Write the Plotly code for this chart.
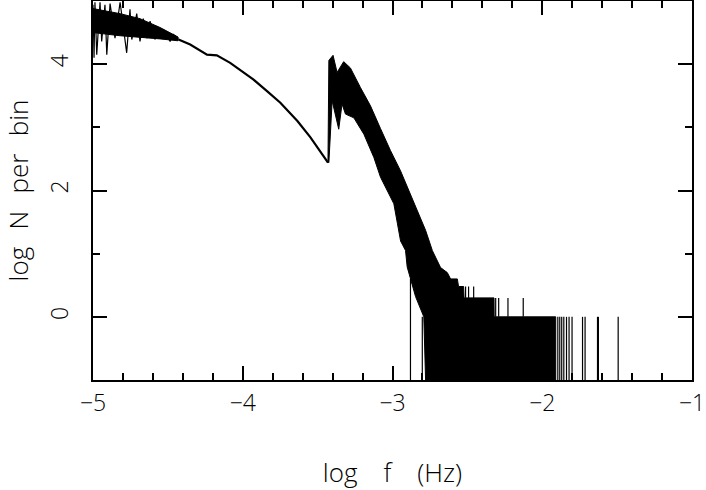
import plotly.graph_objects as go

# ---- data (log f in Hz, log N per bin) ----
# noisy low-frequency part: dense core (x, upper, lower)
core_x = [-5.000, -4.819, -4.686, -4.552, -4.432]
core_hi = [4.88, 4.80, 4.72, 4.58, 4.43]
core_lo = [4.50, 4.45, 4.42, 4.40, 4.37]
# noisy part: outer spike extremes, in order of frequency
noisy_x = [-5.000, -4.993, -4.987, -4.975, -4.953, -4.942, -4.920, -4.908, -4.886, -4.853,
           -4.819, -4.775, -4.753, -4.741, -4.708, -4.686, -4.664, -4.641, -4.619, -4.585,
           -4.574, -4.540, -4.530, -4.485, -4.463, -4.429]
noisy_y = [4.94, 4.10, 4.98, 4.15, 4.98, 4.36, 4.94, 4.15, 4.96, 4.41,
           4.98, 4.18, 4.87, 4.39, 4.80, 4.36, 4.72, 4.41, 4.68, 4.39,
           4.60, 4.41, 4.55, 4.36, 4.47, 4.39]

# smooth declining part
smooth_x = [-4.429, -4.351, -4.239, -4.173, -4.084, -3.997, -3.930, -3.836, -3.749, -3.635, -3.548, -3.448, -3.431]
smooth_y = [4.39, 4.31, 4.15, 4.14, 4.02, 3.87, 3.76, 3.57, 3.39, 3.10, 2.84, 2.50, 2.44]

# dense band after the jump: upper envelope
band_hi_x = [-3.431, -3.425, -3.397, -3.370, -3.326, -3.281, -3.214, -3.147, -3.080, -3.013,
             -2.946, -2.880, -2.813, -2.779, -2.734, -2.701, -2.679, -2.634, -2.612, -2.567,
             -2.559, -2.525, -2.522, -2.322, -2.321, -1.910]
band_hi_y = [2.44, 4.06, 4.14, 3.87, 4.04, 3.94, 3.63, 3.34, 2.98, 2.63,
             2.31, 1.95, 1.57, 1.37, 1.05, 0.90, 0.78, 0.70, 0.60, 0.60,
             0.48, 0.48, 0.30, 0.30, 0.00, 0.00]
# dense band: lower envelope (empty bins sit on the -1 floor)
band_lo_x = [-3.425, -3.403, -3.359, -3.337, -3.314, -3.258, -3.191, -3.124, -3.080, -2.991,
             -2.946, -2.913, -2.902, -2.846, -2.791, -2.779, -1.910]
band_lo_y = [2.44, 3.42, 2.97, 3.37, 3.21, 3.15, 2.89, 2.52, 2.21, 1.79,
             1.20, 1.05, 0.79, 0.32, 0.00, -1.00, -1.00]

# isolated bins drawn as vertical strokes
spike_x = [-2.880, -2.801, -2.512, -2.492, -2.458, -2.311, -2.291, -2.229, -2.127,
           -1.896, -1.883, -1.870, -1.856, -1.838, -1.821, -1.801, -1.731, -1.714,
           -1.631, -1.625, -1.493]
spike_lo = [-1.0, -1.0, 0.30, 0.30, 0.30, 0.0, 0.0, 0.0, 0.0,
            -1.0, -1.0, -1.0, -1.0, -1.0, -1.0, -1.0, -1.0, -1.0,
            -1.0, -1.0, -1.0]
spike_hi = [0.60, 0.00, 0.48, 0.48, 0.48, 0.30, 0.30, 0.30, 0.30,
            0.0, 0.0, 0.0, 0.0, 0.0, 0.0, 0.0, 0.0, 0.0,
            0.0, 0.0, 0.0]

x_ticks = [-5, -4, -3, -2, -1]
y_ticks = [0, 2, 4]

FONT = "Open Sans"
BLACK = "#000000"

fig = go.Figure()

# noisy part: dense core + spikes
fig.add_trace(go.Scatter(
    x=core_x + core_x[::-1], y=core_hi + core_lo[::-1],
    mode="lines", fill="toself", fillcolor=BLACK,
    line=dict(color=BLACK, width=1), hoverinfo="skip", showlegend=False))
fig.add_trace(go.Scatter(
    x=noisy_x, y=noisy_y, mode="lines",
    line=dict(color=BLACK, width=1.2), showlegend=False))

# smooth part
fig.add_trace(go.Scatter(
    x=smooth_x, y=smooth_y, mode="lines",
    line=dict(color=BLACK, width=2.2), showlegend=False))

# dense band
fig.add_trace(go.Scatter(
    x=band_hi_x + band_lo_x[::-1], y=band_hi_y + band_lo_y[::-1],
    mode="lines", fill="toself", fillcolor=BLACK,
    line=dict(color=BLACK, width=1), hoverinfo="skip", showlegend=False))

# spikes
sx, sy = [], []
for x, lo, hi in zip(spike_x, spike_lo, spike_hi):
    sx += [x, x, None]
    sy += [lo, hi, None]
fig.add_trace(go.Scatter(x=sx, y=sy, mode="lines",
                         line=dict(color=BLACK, width=1.2), showlegend=False))

axis_common = dict(
    showline=True, linecolor=BLACK, linewidth=1.8, mirror="ticks",
    ticks="inside", ticklen=14, tickwidth=1.5, tickcolor=BLACK,
    showgrid=False, zeroline=False, automargin=False,
    tickfont=dict(family=FONT, size=23, color=BLACK, weight=300),
)

GAP = "\u2002\u2009"

fig.update_layout(
    width=706, height=490,
    margin=dict(l=93, r=14, t=1, b=110, autoexpand=False),
    paper_bgcolor="white", plot_bgcolor="white",
    xaxis=dict(
        range=[-5, -1], tickvals=x_ticks, ticktext=[f"\u2212{abs(v)}" for v in x_ticks],
        minor=dict(dtick=0.2, ticks="inside", ticklen=7, tickwidth=1.5, tickcolor=BLACK, showgrid=False),
        ticklabelstandoff=1,
        title=dict(text=f"log\u2003f\u2003(Hz)", standoff=48,
                   font=dict(family=FONT, size=26, color=BLACK, weight=300)),
        **axis_common),
    yaxis=dict(
        range=[-1, 5], tickvals=y_ticks, ticktext=[str(v) for v in y_ticks],
        tickangle=-90,
        minor=dict(dtick=1, ticks="inside", ticklen=7, tickwidth=1.5, tickcolor=BLACK, showgrid=False),
        ticklabelstandoff=14,
        title=dict(text=f"log{GAP}N{GAP}per{GAP}bin", standoff=18,
                   font=dict(family=FONT, size=26, color=BLACK, weight=300)),
        **axis_common),
)

fig.write_html(
    "out.html",
    config={"displayModeBar": False},
    post_script="document.body.style.margin='0';document.body.style.overflow='hidden';",
)
